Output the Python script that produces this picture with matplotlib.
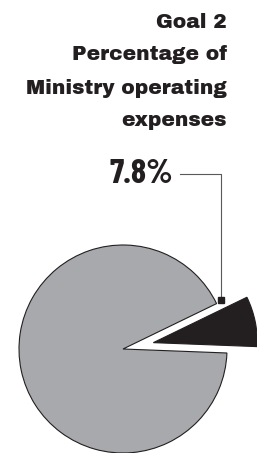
import matplotlib
matplotlib.use("Agg")
import matplotlib.pyplot as plt

# data
labels = ["Goal 2", "Other goals"]
shares = [7.8, 92.2]
colors = ["#231f20", "#a7a9ac"]
title_lines = ["Goal 2", "Percentage of", "Ministry operating", "expenses"]
pct_label = "7.8%"

W, H = 257, 453
fig = plt.figure(figsize=(W / 100, H / 100), dpi=100)
ax = fig.add_axes([0, 0, 1, 1])

# pie in pixel-like units, y up
ax.pie(shares, colors=colors, startangle=-2.2, counterclock=True,
       explode=[31, 0], radius=104, center=(123, 104),
       wedgeprops=dict(edgecolor="#231f20", linewidth=0.8))
ax.set_xlim(0, W)
ax.set_ylim(0, H)
ax.set_aspect("equal")
ax.axis("off")

# title, right aligned
for i, line in enumerate(title_lines):
    ax.text(227, H - 22 - i * 33, line, ha="right", va="center",
            fontsize=14.5, family=["Archivo Black", "DejaVu Sans"],
            fontweight="bold", color="#231f20")

ax.text(141, H - 174, pct_label, ha="center", va="center", fontsize=25,
        fontweight="bold", family=["Barlow Condensed", "DejaVu Sans"],
        color="#231f20")

# leader line to the black slice
ax.plot([180, 221, 221], [H - 174, H - 174, H - 298], color="#58595b", lw=0.8)
ax.plot([221], [H - 300], marker="s", ms=4.5, color="#231f20")

fig.savefig("out.png", dpi=100)
